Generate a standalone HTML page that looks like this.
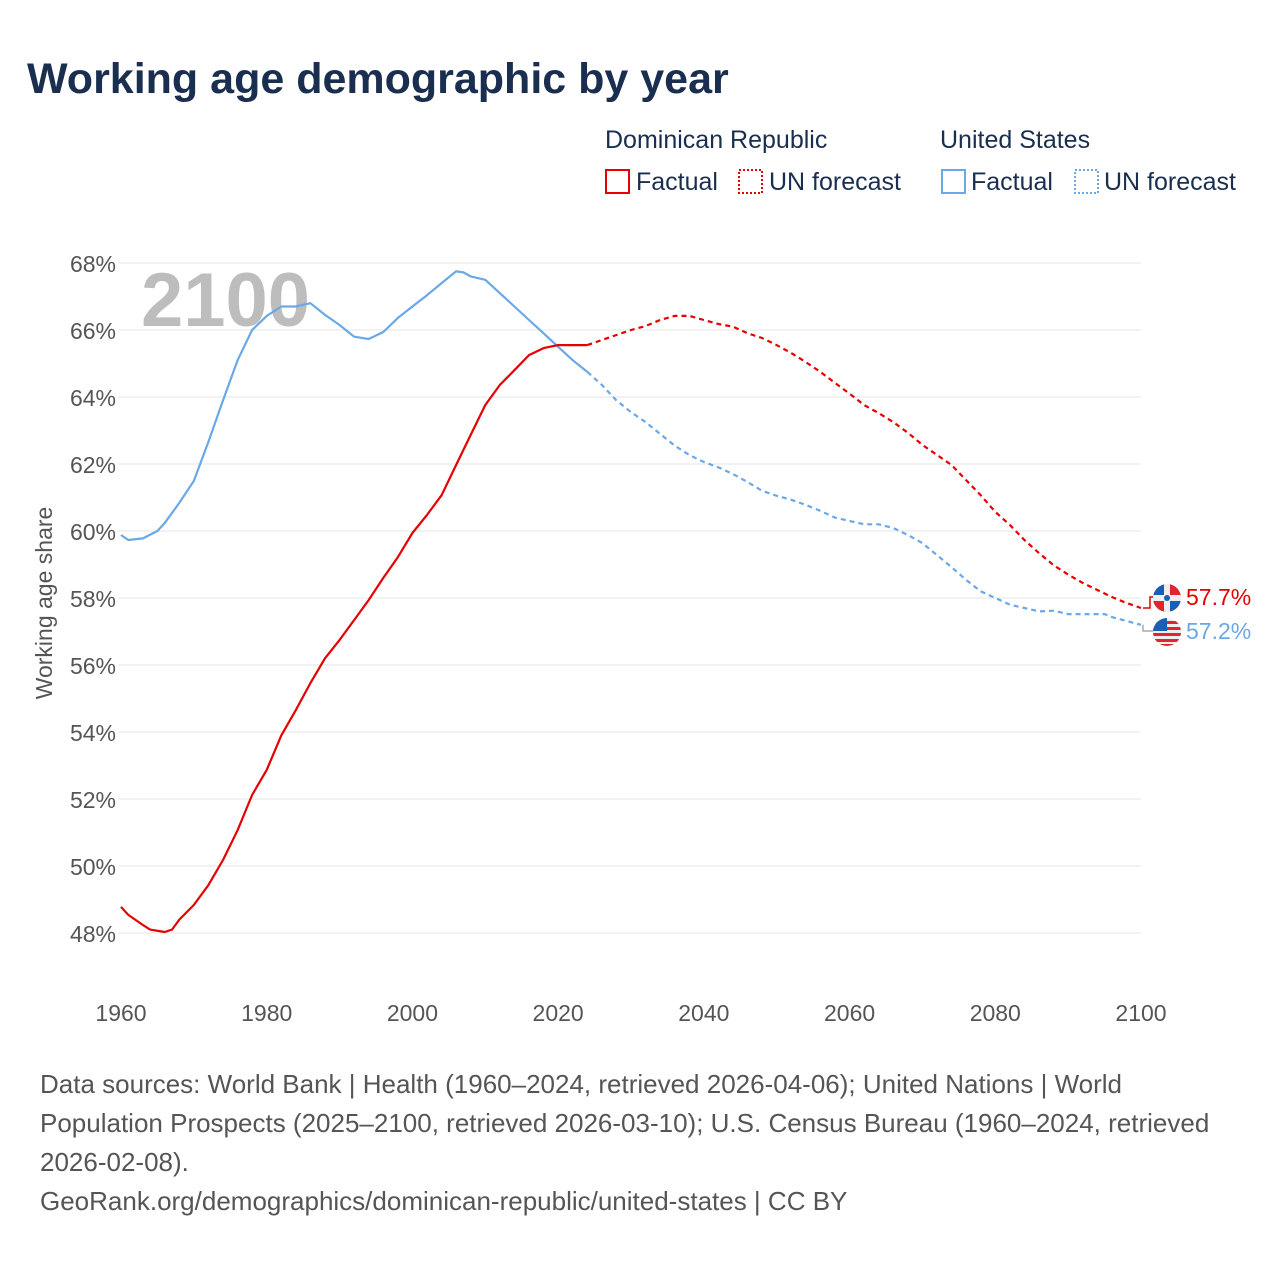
<!DOCTYPE html>
<html><head><meta charset="utf-8"><style>
body{margin:0;background:#fff;font-family:"Liberation Sans",sans-serif;}
#wrap{position:relative;width:1280px;height:1280px;overflow:hidden;}
</style></head><body>
<div id="wrap">
<svg id="svg" width="1280" height="1280">
<defs><clipPath id="usclip"><circle cx="1167" cy="632" r="14"/></clipPath></defs>
<text x="27" y="93" font-size="43" font-weight="bold" fill="#1a2e4f">Working age demographic by year</text>
<g font-size="25" fill="#1a2e4f">
<text x="605" y="148">Dominican Republic</text>
<text x="940" y="148">United States</text>
<g><rect x="606" y="170" width="23" height="23" fill="none" stroke="#e60000" stroke-width="2"/><text x="636" y="190">Factual</text></g>
<g><rect x="739" y="170" width="23" height="23" fill="none" stroke="#e60000" stroke-width="2" stroke-dasharray="2,2"/><text x="769" y="190">UN forecast</text></g>
<g><rect x="942" y="170" width="23" height="23" fill="none" stroke="#6aa8e8" stroke-width="2"/><text x="971" y="190">Factual</text></g>
<g><rect x="1075" y="170" width="23" height="23" fill="none" stroke="#6aa8e8" stroke-width="2" stroke-dasharray="2,2"/><text x="1104" y="190">UN forecast</text></g>
</g>
<g id="grid"></g>
<text x="141" y="326" font-size="76" font-weight="bold" fill="#bdbdbd">2100</text>
<g id="plot"></g>
<text transform="translate(52,603) rotate(-90)" text-anchor="middle" font-size="23" fill="#555">Working age share</text>
<g font-size="26" fill="#555">
<text x="40" y="1093">Data sources: World Bank | Health (1960–2024, retrieved 2026-04-06); United Nations | World</text>
<text x="40" y="1132">Population Prospects (2025–2100, retrieved 2026-03-10); U.S. Census Bureau (1960–2024, retrieved</text>
<text x="40" y="1171">2026-02-08).</text>
<text x="40" y="1210">GeoRank.org/demographics/dominican-republic/united-states | CC BY</text>
</g>
</svg>
</div>
<script>
const yTicks=[48,50,52,54,56,58,60,62,64,66,68];
const xTicks=[1960,1980,2000,2020,2040,2060,2080,2100];
const usYears=[1960,1961,1963,1965,1966,1968,1970,1972,1974,1976,1978,1980,1982,1984,1986,1988,1990,1992,1994,1996,1998,2000,2002,2004,2006,2007,2008,2010,2012,2014,2016,2018,2020,2022,2024,2026,2028,2030,2032,2034,2036,2038,2040,2042,2044,2046,2048,2050,2052,2054,2056,2058,2060,2062,2064,2066,2068,2070,2072,2074,2076,2078,2080,2082,2084,2086,2088,2090,2095,2096,2100];
const usValues=[59.88,59.73,59.78,60.0,60.24,60.84,61.5,62.66,63.9,65.1,66.0,66.42,66.7,66.7,66.8,66.45,66.15,65.8,65.73,65.94,66.36,66.7,67.04,67.4,67.75,67.72,67.6,67.5,67.1,66.7,66.3,65.9,65.5,65.1,64.75,64.36,63.9,63.55,63.25,62.9,62.55,62.27,62.06,61.9,61.7,61.46,61.2,61.05,60.93,60.78,60.6,60.4,60.3,60.2,60.2,60.09,59.88,59.64,59.28,58.92,58.54,58.2,58.0,57.8,57.7,57.6,57.62,57.52,57.52,57.43,57.2];
const drYears=[1960,1961,1963,1964,1966,1967,1968,1970,1972,1974,1976,1978,1980,1982,1984,1986,1988,1990,1992,1994,1996,1998,2000,2002,2004,2006,2008,2010,2012,2014,2016,2018,2020,2024,2026,2028,2030,2032,2034,2036,2038,2040,2042,2044,2046,2048,2050,2052,2054,2056,2058,2060,2062,2064,2066,2068,2070,2072,2074,2076,2078,2080,2082,2084,2086,2088,2090,2092,2094,2096,2098,2100];
const drValues=[48.78,48.54,48.24,48.1,48.03,48.1,48.4,48.84,49.43,50.18,51.07,52.12,52.87,53.9,54.66,55.46,56.2,56.75,57.34,57.94,58.6,59.22,59.94,60.48,61.07,61.97,62.87,63.76,64.36,64.8,65.25,65.46,65.55,65.55,65.7,65.85,66.0,66.12,66.3,66.42,66.42,66.3,66.18,66.1,65.9,65.76,65.55,65.31,65.04,64.75,64.42,64.1,63.76,63.52,63.25,62.93,62.57,62.27,61.97,61.52,61.07,60.57,60.18,59.73,59.34,58.98,58.7,58.45,58.24,58.03,57.85,57.7];
const lastFactual=2024;
const NS="http://www.w3.org/2000/svg";
const X=y=>121+(y-1960)*(1020/140);
const Y=v=>263+(68-v)*33.5;
const grid=document.getElementById('grid'),plot=document.getElementById('plot');
function mk(t,a,p){const e=document.createElementNS(NS,t);for(const k in a)e.setAttribute(k,a[k]);p.appendChild(e);return e;}
yTicks.forEach(v=>{
 const l=mk('line',{x1:118,x2:1141,y1:Y(v),y2:Y(v),stroke:'#e6e6e6','stroke-width':1},grid);
 
 
 const t=mk('text',{x:116,y:Y(v)+9,'text-anchor':'end','font-size':23,fill:'#555'},grid);
 t.textContent=v+'%';
 
 
});
xTicks.forEach(v=>{
 const t=mk('text',{x:X(v),y:1021,'text-anchor':'middle','font-size':23,fill:'#555'},grid);
 t.textContent=v;
 
 
});
function series(years,vals,color,name){
 const f=[],p=[];
 years.forEach((y,i)=>{const pt=X(y).toFixed(1)+','+Y(vals[i]).toFixed(1);if(y<=lastFactual)f.push(pt);if(y>=lastFactual)p.push(pt);});
 const a=mk('polyline',{points:f.join(' '),fill:'none',stroke:color,'stroke-width':2.2,'stroke-linejoin':'round'},plot);
 
 
 const b=mk('polyline',{points:p.join(' '),fill:'none',stroke:color,'stroke-width':2.2,'stroke-dasharray':'5,4'},plot);
 
 
}
series(usYears,usValues,'#6aa8e8','us');
series(drYears,drValues,'#e60000','dr');
const drEnd=drValues[drValues.length-1],usEnd=usValues[usValues.length-1];
const dy=Y(drEnd),uy=Y(usEnd);
mk('polyline',{points:`1143,${dy} 1150,${dy} 1150,597 1156,597`,fill:'none',stroke:'#e60000','stroke-width':1.5},plot);
mk('polyline',{points:`1143,${uy} 1143,631 1156,631`,fill:'none',stroke:'#aaa','stroke-width':1.5},plot);
const f1=mk('g',{},plot);


mk('circle',{cx:1167,cy:598,r:14,fill:'#1a5fb4'},f1);
mk('path',{d:'M1167,584 A14,14 0 0 1 1181,598 L1167,598Z',fill:'#e0262b'},f1);
mk('path',{d:'M1153,598 A14,14 0 0 0 1167,612 L1167,598Z',fill:'#e0262b'},f1);
mk('rect',{x:1153,y:595,width:28,height:6,fill:'#eee'},f1);
mk('rect',{x:1164,y:584,width:6,height:28,fill:'#eee'},f1);
mk('circle',{cx:1167,cy:598,r:3,fill:'#1a5fb4'},f1);
const f2=mk('g',{'clip-path':'url(#usclip)'},plot);


mk('rect',{x:1153,y:618,width:28,height:28,fill:'#eee'},f2);
[621,627,633,639,644].forEach(y=>mk('rect',{x:1153,y:y,width:28,height:3,fill:'#e0262b'},f2));
mk('rect',{x:1153,y:618,width:14,height:13,fill:'#1a5fb4'},f2);
const l1=mk('text',{x:1186,y:605,'font-size':23,fill:'#e60000'},plot);l1.textContent=drEnd.toFixed(1)+'%';


const l2=mk('text',{x:1186,y:639,'font-size':23,fill:'#6aa8e8'},plot);l2.textContent=usEnd.toFixed(1)+'%';


</script>
</body></html>
